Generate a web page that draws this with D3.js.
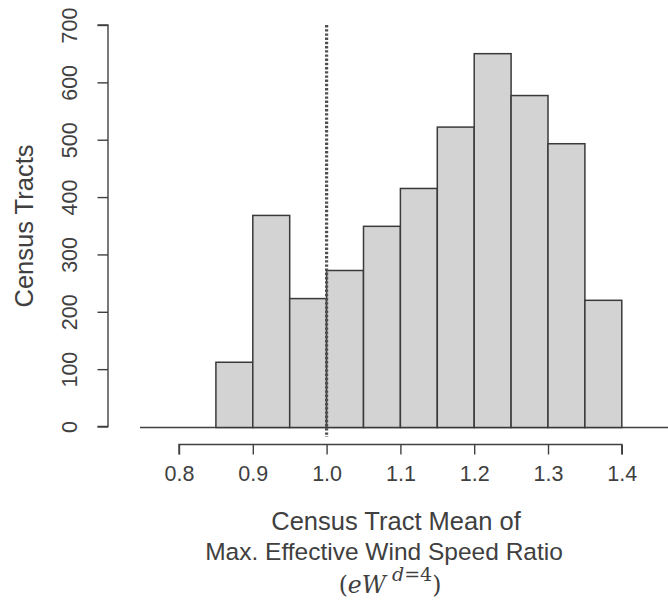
<!DOCTYPE html>
<html>
<head>
<meta charset="utf-8">
<script src="https://cdn.jsdelivr.net/npm/d3@7"></script>
<style>
	body { margin: 0; background: #fff; }
	text { font-family: "Liberation Sans", Arial, Helvetica, sans-serif; fill: #404040; }
</style>
</head>
<body>
<svg id="chart" width="668" height="603"></svg>
<script>

	// histogram bins (lower edge) and counts
	var binStarts = [0.85, 0.90, 0.95, 1.00, 1.05, 1.10, 1.15, 1.20, 1.25, 1.30, 1.35];
	var binWidth = 0.05;
	var counts = [112, 368, 223, 272, 349, 415, 522, 650, 577, 493, 220];

	var xTicks = [0.8, 0.9, 1.0, 1.1, 1.2, 1.3, 1.4];
	var yTicks = [0, 100, 200, 300, 400, 500, 600, 700];
	var refLine = 1.0;

	var svg = d3.select("#chart");

	var x = d3.scaleLinear()
		.domain([0.8, 1.4])
		.range([179, 621.8]);

	var y = d3.scaleLinear()
		.domain([0, 700])
		.range([426.5, 25]);

	var bins = binStarts.map(function(s, i) { return { x0: s, x1: s + binWidth, n: counts[i] }; });

	// baseline
	svg.append("line")
		.attr("x1", 140).attr("x2", 668)
		.attr("y1", y(0) + 1).attr("y2", y(0) + 1)
		.style("stroke", "#404040")
		.style("stroke-width", 1.4);

	// bars
	svg.selectAll("rect.bar")
		.data(bins)
		.enter().append("rect")
		.attr("class", "bar")
		.attr("x", function(d) { return x(d.x0); })
		.attr("y", function(d) { return y(d.n); })
		.attr("width", function(d) { return x(d.x1) - x(d.x0); })
		.attr("height", function(d) { return y(0) + 1 - y(d.n); })
		.style("fill", "#d3d3d3")
		.style("stroke", "#3a3a3a")
		.style("stroke-width", 1.5);

	// dotted reference line
	svg.append("line")
		.attr("x1", x(refLine)).attr("x2", x(refLine))
		.attr("y1", y(700)).attr("y2", 437)
		.style("stroke", "#505050")
		.style("stroke-width", 3.2)
		.style("stroke-dasharray", "2.4,1.8");

	// x axis
	var xAxis = d3.axisBottom(x)
		.tickValues(xTicks)
		.tickFormat(d3.format(".1f"))
		.tickSize(10)
		.tickPadding(11);

	var gx = svg.append("g")
		.attr("transform", "translate(0,444.5)")
		.call(xAxis);

	gx.select(".domain").attr("d", "M" + x(0.8) + ",10V0H" + x(1.4) + "V10");
	gx.selectAll("path, line").style("stroke", "#404040").style("stroke-width", 1.4);
	gx.selectAll("text")
		.style("font-size", "21.5px")
		.style("fill", "#404040")
		.style("font-family", "Liberation Sans, Arial");

	// y axis
	var yAxis = d3.axisLeft(y)
		.tickValues(yTicks)
		.tickSize(10.5)
		.tickPadding(0);

	var gy = svg.append("g")
		.attr("transform", "translate(108,0)")
		.call(yAxis);

	gy.select(".domain").attr("d", "M-10.5," + y(700) + "H0V" + y(0) + "H-10.5");
	gy.selectAll("path, line").style("stroke", "#404040").style("stroke-width", 1.4);
	gy.selectAll("text")
		.attr("x", null).attr("dy", null)
		.attr("transform", "translate(-31.5,0) rotate(-90)")
		.style("text-anchor", "middle")
		.style("font-size", "21.5px")
		.style("fill", "#404040")
		.style("font-family", "Liberation Sans, Arial");

	// axis titles
	svg.append("text")
		.attr("transform", "translate(33,226) rotate(-90)")
		.style("text-anchor", "middle")
		.style("font-size", "25.5px")
		.text("Census Tracts");

	svg.append("text")
		.attr("x", 396).attr("y", 530)
		.style("text-anchor", "middle")
		.style("font-size", "25.5px")
		.text("Census Tract Mean of");

	svg.append("text")
		.attr("x", 384).attr("y", 560)
		.style("text-anchor", "middle")
		.style("font-size", "24.5px")
		.text("Max. Effective Wind Speed Ratio");

	var math = svg.append("text")
		.attr("x", 390).attr("y", 593)
		.style("text-anchor", "middle")
		.style("font-family", "DejaVu Serif, Liberation Serif, serif")
		.style("font-size", "23.5px");
	math.append("tspan").text("(");
	math.append("tspan").style("font-style", "italic").text("eW");
	math.append("tspan").attr("dy", -12).style("font-size", "19px").style("font-style", "italic").text(" d");
	math.append("tspan").style("font-size", "19px").text("=4");
	math.append("tspan").attr("dy", 12).text(")");

</script>
</body>
</html>
